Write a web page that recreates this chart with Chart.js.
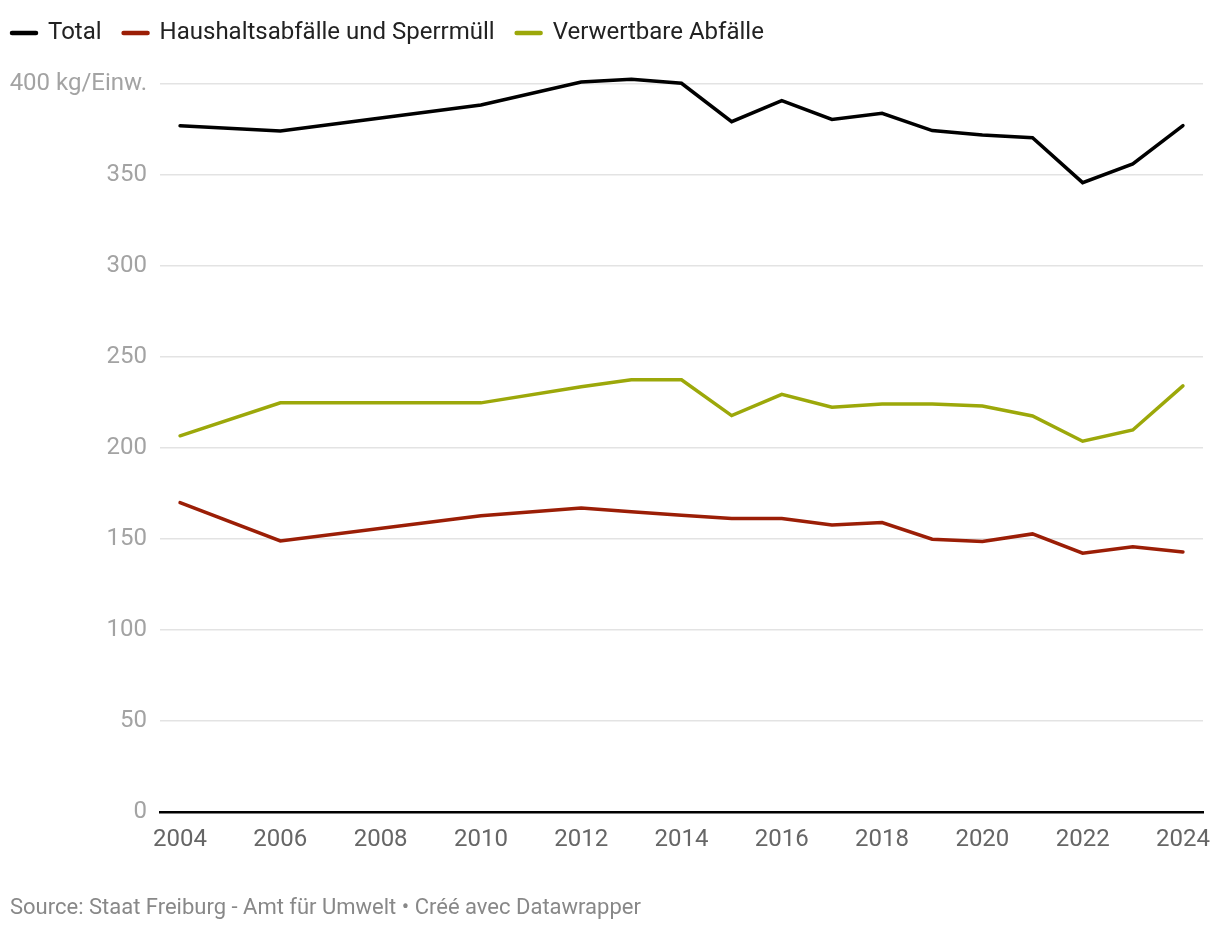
<!DOCTYPE html>
<html>
<head>
<meta charset="utf-8">
<script src="https://cdn.jsdelivr.net/npm/chart.js@4"></script>
<style>
  html, body { margin: 0; padding: 0; background: #fff; }
  #wrap { position: relative; width: 1220px; height: 930px; }
  #footer {
    position: absolute; left: 10px; top: 894px;
    font-family: Roboto, sans-serif; font-size: 22px; color: #888;
  }
</style>
</head>
<body>
<div id="wrap">
  <canvas id="wasteChart" width="1220" height="930"></canvas>
  <div id="footer">Source: Staat Freiburg - Amt für Umwelt • Créé avec Datawrapper</div>
</div>
<script>
// Abfallmengen pro Einwohner, Freiburg (kg/Einw.)
const years = [2004, 2006, 2010, 2012, 2013, 2014, 2015, 2016, 2017, 2018, 2019, 2020, 2021, 2022, 2023, 2024];
const total = [377, 374.2, 388.5, 401.1, 402.6, 400.4, 379.3, 390.9, 380.5, 383.9, 374.4, 372, 370.5, 345.8, 356.1, 377.1];
const haushalt = [170, 148.9, 162.8, 167, 165, 163, 161.3, 161.2, 157.7, 159, 149.9, 148.6, 152.8, 142.2, 145.8, 142.9];
const verwertbar = [206.7, 224.8, 224.8, 233.6, 237.5, 237.5, 217.8, 229.5, 222.4, 224.2, 224.2, 223.1, 217.6, 203.7, 209.9, 234.1];

const xTicks = [2004, 2006, 2008, 2010, 2012, 2014, 2016, 2018, 2020, 2022, 2024];
const yTicks = [0, 50, 100, 150, 200, 250, 300, 350, 400];

const seriesNames = ['Total', 'Haushaltsabfälle und Sperrmüll', 'Verwertbare Abfälle'];
const seriesColors = ['#000000', '#9b1e06', '#9ca80a'];

const toPoints = (vals) => years.map((y, i) => ({ x: y, y: vals[i] }));

// push the plot area down below the legend
const legendGap = {
    id: 'legendGap',
    beforeInit(chart) {
        const fit = chart.legend.fit;
        chart.legend.fit = function() {
            fit.bind(chart.legend)();
            this.height += 29;
        };
    }
};

const ctx = document.getElementById('wasteChart');

new Chart(ctx, {
    type: 'line',
    data: {
        datasets: [total, haushalt, verwertbar].map((vals, i) => ({
            label: seriesNames[i],
            data: toPoints(vals),
            borderColor: seriesColors[i],
            backgroundColor: seriesColors[i],
            borderWidth: 3.5,
            pointRadius: 0,
            tension: 0,
            clip: false,
            borderJoinStyle: 'miter',
            borderCapStyle: 'round'
        }))
    },
    options: {
        responsive: false,
        animation: false,
        layout: {
            padding: { left: -10, right: 17, top: -1, bottom: 68 }
        },
        plugins: {
            legend: {
                position: 'top',
                align: 'start',
                labels: {
                    color: '#222',
                    font: { family: 'Roboto', size: 24 },
                    usePointStyle: true,
                    pointStyle: 'line',
                    pointStyleWidth: 24,
                    padding: 22,
                    generateLabels: function(chart) {
                        return chart.data.datasets.map((ds, i) => ({
                            text: ds.label,
                            fillStyle: ds.borderColor,
                            strokeStyle: ds.borderColor,
                            lineWidth: 4.5,
                            lineCap: 'round',
                            pointStyle: 'line',
                            fontColor: '#222',
                            hidden: false,
                            datasetIndex: i
                        }));
                    }
                }
            },
            tooltip: { enabled: false }
        },
        scales: {
            x: {
                type: 'linear',
                min: 2003.6,
                max: 2024.4,
                afterBuildTicks: (axis) => { axis.ticks = xTicks.map(v => ({ value: v })); },
                afterFit: (axis) => {
                    axis.height = 50;
                    axis.paddingLeft = 0;
                    axis.paddingRight = 0;
                },
                grid: { display: false, drawTicks: false },
                border: { display: true, color: '#000', width: 2.5 },
                ticks: {
                    color: '#666',
                    font: { family: 'Roboto', size: 24 },
                    padding: 14,
                    maxRotation: 0,
                    callback: (v) => String(v)
                }
            },
            y: {
                min: 0,
                max: 400,
                afterBuildTicks: (axis) => { axis.ticks = yTicks.map(v => ({ value: v })); },
                afterFit: (axis) => { axis.width = 170; },
                grid: {
                    color: '#e3e3e3',
                    lineWidth: 1.5,
                    drawTicks: false
                },
                border: { display: false },
                ticks: {
                    color: '#a3a3a3',
                    font: { family: 'Roboto', size: 24 },
                    padding: 13,
                    callback: (v) => v === 400 ? '400 kg/Einw.' : String(v)
                }
            }
        }
    },
    plugins: [legendGap]
});
</script>
</body>
</html>
